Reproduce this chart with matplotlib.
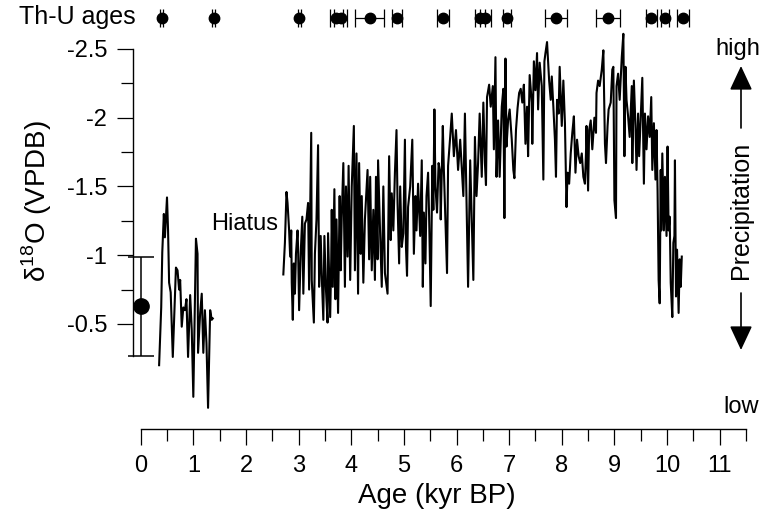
import matplotlib
matplotlib.use("Agg")
import matplotlib.pyplot as plt
from matplotlib.ticker import FixedLocator

plt.rcParams['font.family'] = ['Liberation Sans', 'DejaVu Sans']
plt.rcParams['mathtext.fontset'] = 'custom'
plt.rcParams['mathtext.rm'] = 'Liberation Sans'

# ---------------- data ----------------
# Th-U ages (kyr BP) with 2-sigma errors
thu_age = [0.40, 1.39, 3.01, 3.72, 3.80, 4.35, 4.87, 5.74, 6.45, 6.55,
           6.96, 7.89, 8.88, 9.70, 9.96, 10.30]
thu_err = [0.03, 0.03, 0.03, 0.12, 0.12, 0.28, 0.10, 0.11, 0.10, 0.10,
           0.08, 0.20, 0.23, 0.10, 0.08, 0.11]

# modern value
modern_age = [0.0]
modern_d18o = [-0.63]
modern_err = [0.36]

# late Holocene segment
seg1_age = [0.35, 0.39, 0.41, 0.44, 0.46, 0.50, 0.52, 0.54, 0.57, 0.61,
            0.67, 0.70, 0.73, 0.75, 0.78, 0.81, 0.84, 0.87, 0.90, 0.94,
            0.97, 1.00, 1.05, 1.08, 1.09, 1.13, 1.16, 1.19, 1.22, 1.25,
            1.28, 1.32, 1.35, 1.37]
seg1_d18o = [-0.20, -0.62, -1.02, -1.30, -1.13, -1.42, -1.18, -0.80, -0.73, -0.26,
             -0.91, -0.89, -0.75, -0.82, -0.48, -0.62, -0.60, -0.68, -0.26, -0.71,
             -0.46, 0.03, -1.12, -1.01, -0.29, -0.58, -0.72, -0.29, -0.60, -0.36,
             0.11, -0.60, -0.53, -0.54]

# early-mid Holocene segment
seg2_age = [2.71, 2.74, 2.77, 2.79, 2.82, 2.84, 2.86, 2.87, 2.89, 2.91,
            2.93, 2.95, 2.98, 2.99, 3.01, 3.04, 3.07, 3.09, 3.12, 3.15,
            3.18, 3.20, 3.24, 3.25, 3.29, 3.31, 3.34, 3.37, 3.39, 3.42,
            3.44, 3.47, 3.49, 3.52, 3.55, 3.56, 3.60, 3.62, 3.63, 3.65,
            3.68, 3.70, 3.72, 3.75, 3.78, 3.80, 3.82, 3.85, 3.88, 3.90,
            3.93, 3.95, 3.98, 4.01, 4.05, 4.07, 4.10, 4.13, 4.15, 4.18,
            4.20, 4.23, 4.26, 4.31, 4.34, 4.36, 4.39, 4.42, 4.45, 4.47,
            4.50, 4.51, 4.55, 4.58, 4.61, 4.64, 4.69, 4.72, 4.75, 4.77,
            4.80, 4.83, 4.86, 4.88, 4.91, 4.93, 4.96, 4.99, 5.02, 5.04,
            5.06, 5.08, 5.12, 5.16, 5.19, 5.22, 5.24, 5.27, 5.31, 5.34,
            5.36, 5.38, 5.41, 5.43, 5.46, 5.48, 5.51, 5.54, 5.56, 5.58,
            5.60, 5.63, 5.66, 5.69, 5.70, 5.74, 5.76, 5.82, 5.84, 5.88,
            5.91, 5.95, 5.99, 6.03, 6.07, 6.13, 6.16, 6.19, 6.22, 6.26,
            6.32, 6.35, 6.38, 6.41, 6.44, 6.48, 6.51, 6.54, 6.56, 6.58,
            6.62, 6.65, 6.69, 6.71, 6.74, 6.76, 6.79, 6.82, 6.86, 6.89,
            6.91, 6.93, 6.95, 6.98, 7.01, 7.05, 7.08, 7.10, 7.13, 7.16,
            7.19, 7.22, 7.25, 7.28, 7.31, 7.34, 7.36, 7.39, 7.43, 7.44,
            7.47, 7.50, 7.53, 7.55, 7.58, 7.62, 7.65, 7.67, 7.69, 7.72,
            7.76, 7.79, 7.81, 7.84, 7.87, 7.89, 7.91, 7.94, 7.96, 8.00,
            8.03, 8.06, 8.09, 8.11, 8.14, 8.17, 8.20, 8.23, 8.26, 8.29,
            8.32, 8.35, 8.38, 8.41, 8.44, 8.46, 8.47, 8.50, 8.52, 8.55,
            8.58, 8.62, 8.65, 8.66, 8.69, 8.72, 8.76, 8.79, 8.82, 8.84,
            8.87, 8.89, 8.93, 8.96, 8.98, 9.00, 9.03, 9.04, 9.07, 9.10,
            9.14, 9.17, 9.19, 9.21, 9.23, 9.26, 9.29, 9.33, 9.34, 9.37,
            9.40, 9.42, 9.45, 9.47, 9.50, 9.53, 9.56, 9.58, 9.61, 9.64,
            9.67, 9.70, 9.72, 9.75, 9.78, 9.80, 9.82, 9.84, 9.86, 9.88,
            9.89, 9.91, 9.94, 9.96, 9.99, 10.01, 10.03, 10.05, 10.07, 10.10,
            10.12, 10.14, 10.15, 10.17, 10.19, 10.22, 10.24, 10.26, 10.28]
seg2_d18o = [-0.86, -1.09, -1.46, -1.38, -1.18, -0.99, -1.18, -0.80, -0.53, -0.94,
             -0.72, -1.01, -1.18, -1.06, -0.60, -1.01, -1.28, -0.72, -1.23, -1.26,
             -1.38, -0.75, -1.89, -0.82, -0.51, -1.01, -1.26, -1.80, -0.77, -1.14,
             -0.85, -0.53, -1.14, -0.75, -0.51, -1.16, -0.55, -0.97, -1.33, -0.77,
             -1.48, -0.68, -1.26, -0.58, -1.43, -0.89, -1.28, -1.67, -0.77, -1.50,
             -0.99, -1.65, -0.82, -1.50, -1.94, -0.89, -1.74, -0.72, -1.67, -1.01,
             -1.43, -0.80, -1.26, -1.62, -0.97, -1.57, -0.89, -1.33, -0.82, -1.57,
             -0.97, -1.69, -1.14, -0.77, -1.50, -0.87, -0.72, -1.72, -1.11, -1.45,
             -1.18, -1.60, -1.91, -1.38, -0.94, -1.50, -1.06, -1.16, -1.84, -1.06,
             -0.85, -1.35, -1.50, -1.84, -1.01, -1.43, -1.18, -1.52, -1.14, -1.69,
             -0.77, -1.31, -0.94, -1.43, -1.60, -1.28, -0.63, -1.65, -1.33, -2.06,
             -1.50, -1.31, -1.67, -1.60, -1.26, -1.94, -1.62, -0.87, -1.65, -1.86,
             -2.03, -1.72, -1.91, -1.62, -1.84, -1.43, -2.03, -1.40, -0.77, -1.69,
             -0.82, -1.86, -1.43, -1.67, -2.03, -1.57, -2.11, -1.67, -1.51, -2.15,
             -2.24, -2.08, -2.23, -1.77, -2.44, -1.57, -1.98, -1.57, -2.08, -2.21,
             -1.27, -2.43, -1.79, -1.98, -2.06, -1.84, -1.62, -1.56, -1.91, -2.07,
             -2.18, -2.21, -2.11, -2.24, -1.81, -2.08, -1.72, -2.31, -2.11, -1.81,
             -2.41, -2.20, -2.47, -2.06, -2.40, -2.23, -1.55, -2.41, -2.47, -2.55,
             -2.27, -2.13, -2.30, -2.08, -1.84, -1.57, -2.13, -2.03, -2.37, -1.94,
             -2.27, -1.96, -1.35, -1.60, -1.52, -1.74, -1.89, -2.01, -1.60, -1.84,
             -1.72, -1.67, -1.74, -1.57, -1.52, -1.74, -1.94, -1.47, -1.91, -1.98,
             -1.77, -2.00, -1.89, -2.18, -2.27, -2.23, -2.35, -2.49, -1.81, -1.67,
             -1.94, -2.06, -2.11, -2.35, -2.37, -1.40, -1.27, -2.23, -2.32, -2.13,
             -2.44, -2.61, -1.72, -2.37, -2.13, -2.01, -1.86, -2.23, -1.67, -2.27,
             -1.94, -1.62, -2.03, -1.72, -2.01, -2.29, -1.52, -2.03, -1.77, -2.01,
             -1.86, -2.15, -1.62, -1.96, -1.55, -1.91, -1.47, -0.82, -0.65, -1.62,
             -1.18, -1.74, -1.18, -1.57, -1.14, -1.79, -1.18, -1.28, -0.80, -0.55,
             -1.09, -1.14, -1.69, -0.70, -1.04, -0.58, -0.97, -0.77, -0.99]

# axis tick values
x_major = list(range(0, 12))
y_major = [-2.5, -2.0, -1.5, -1.0, -0.5]
y_major_labels = ['-2.5', '-2', '-1.5', '-1', '-0.5']
y_minor = [-2.25, -1.75, -1.25, -0.75]

# ---------------- figure ----------------
W, H = 776, 520
fig = plt.figure(figsize=(W / 100, H / 100), dpi=100)

L, R, B, T = 133, 746, 429, 40
ax = fig.add_axes([L / W, 1 - B / H, (R - L) / W, (B - T) / H])
ax.set_xlim(-0.146, 11.5)
ax.set_ylim(0.264, -2.565)

ax.plot(seg1_age, seg1_d18o, color='black', lw=1.5, clip_on=False)
ax.plot(seg2_age, seg2_d18o, color='black', lw=1.5, clip_on=False)
ax.errorbar(modern_age, modern_d18o, yerr=modern_err, fmt='o', color='black',
            ms=11, capsize=9.5, elinewidth=1.1, capthick=1.1, clip_on=False)

for s in ['top', 'right']:
    ax.spines[s].set_visible(False)
ax.spines['left'].set_bounds(-2.5, -0.27)
ax.spines['bottom'].set_bounds(0, 11.5)
for s in ['left', 'bottom']:
    ax.spines[s].set_linewidth(1.0)

ax.set_xticks(x_major)
ax.set_xticklabels([str(v) for v in x_major])
ax.xaxis.set_minor_locator(FixedLocator([v + 0.5 for v in x_major]))
ax.set_yticks(y_major)
ax.set_yticklabels(y_major_labels)
ax.yaxis.set_minor_locator(FixedLocator(y_minor))
ax.tick_params(axis='both', which='major', direction='out', length=11.5,
               width=0.9, labelsize=17, pad=7)
ax.tick_params(axis='both', which='minor', direction='out', length=8.5, width=0.9)

ax.text(2.61, -1.18, 'Hiatus', ha='right', va='baseline', fontsize=17)

fig.text(37 / W, 1 - 201 / H, 'δ$^{\\mathregular{18}}$O (VPDB)', rotation=90,
         ha='center', va='center', fontsize=20)
fig.text(437 / W, 1 - 496 / H, 'Age (kyr BP)', ha='center', va='center', fontsize=20)

# Th-U ages row
axt = fig.add_axes([L / W, 1 - 28 / H, (R - L) / W, 20 / H], sharex=ax)
axt.set_ylim(0, 1)
axt.errorbar(thu_age, [0.5] * len(thu_age), xerr=thu_err, fmt='o', color='black',
             ms=7.5, capsize=6.5, elinewidth=0.9, capthick=0.9, clip_on=False)
axt.axis('off')
fig.text(136 / W, 1 - 17 / H, 'Th-U ages', ha='right', va='center', fontsize=18)

# Precipitation annotation
xa = 741 / W
fig.text(738 / W, 1 - 49 / H, 'high', ha='center', va='center', fontsize=17)
fig.text(741 / W, 1 - 407 / H, 'low', ha='center', va='center', fontsize=17)
fig.text(xa, 1 - 210 / H, 'Precipitation', rotation=90, ha='center', va='center',
         fontsize=18)
arrow_kw = dict(arrowstyle='-|>,head_length=1.5,head_width=0.7', color='black',
                lw=1.2, shrinkA=0, shrinkB=0, mutation_scale=10)
fig.add_artist(matplotlib.patches.FancyArrowPatch(
    (xa, 1 - 128 / H), (xa, 1 - 66 / H), transform=fig.transFigure, **arrow_kw))
fig.add_artist(matplotlib.patches.FancyArrowPatch(
    (xa, 1 - 293 / H), (xa, 1 - 350 / H), transform=fig.transFigure, **arrow_kw))

fig.savefig('out.png', dpi=100)
